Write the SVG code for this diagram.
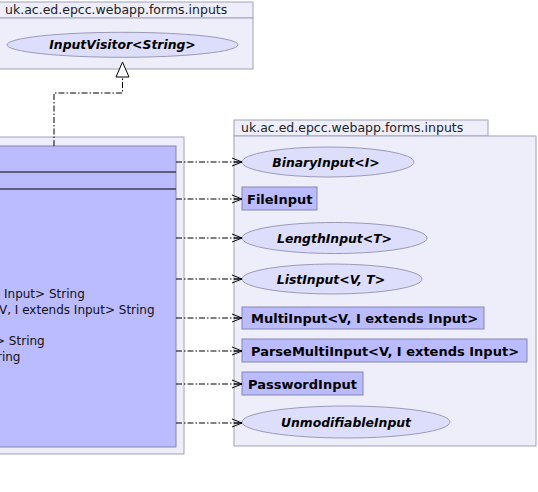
<svg xmlns="http://www.w3.org/2000/svg" width="538" height="492" viewBox="0 0 538 492">
<defs>
<style>
.pkg{fill:#eeeefb;stroke:#a2a2bc;stroke-width:1}
.cls{fill:#bbbbff;stroke:#8585b0;stroke-width:1}
.ifc{fill:#ddddfc;stroke:#9a9ab8;stroke-width:1}
.lbl{font-family:"DejaVu Sans",sans-serif;font-size:12.5px;fill:#222}
.t{font-family:"DejaVu Sans",sans-serif;font-size:12px;fill:#111}
.b{font-family:"DejaVu Sans",sans-serif;font-size:13px;font-weight:bold;fill:#000}
.bi{font-family:"DejaVu Sans",sans-serif;font-size:12.4px;font-weight:bold;font-style:italic;fill:#000;text-anchor:middle}
.dep{fill:none;stroke:#000;stroke-width:1;stroke-dasharray:6,2,1.5,2;marker-end:url(#vee)}
</style>
<marker id="vee" markerWidth="12" markerHeight="10" refX="10" refY="5" orient="auto" markerUnits="userSpaceOnUse">
<path d="M0,1 L10,5 L0,9 M2,5 L10,5" fill="none" stroke="#000" stroke-width="1"/>
</marker>
</defs>

<g id="pkg-top">
<rect class="pkg" x="-2" y="2" width="255" height="16"/>
<rect class="pkg" x="-2" y="18" width="255" height="51"/>
<text class="lbl" x="5" y="14">uk.ac.ed.epcc.webapp.forms.inputs</text>
</g>
<g id="InputVisitor">
<ellipse class="ifc" cx="122.5" cy="44.8" rx="115.5" ry="12.5"/>
<text class="bi" x="122.5" y="48.5">InputVisitor&lt;String&gt;</text>
</g>

<g id="pkg-left">
<rect class="pkg" x="-2" y="137" width="186" height="317"/>
</g>
<g id="main-class">
<rect class="cls" x="-2" y="146" width="178" height="301"/>
<line x1="-2" y1="172" x2="176" y2="172" stroke="#000"/>
<line x1="-2" y1="189" x2="176" y2="189" stroke="#000"/>
<text class="t" x="4" y="298">Input&gt; String</text>
<text class="t" x="-1" y="314">V, I extends Input&gt; String</text>
<text class="t" x="-5" y="345">&gt; String</text>
<text class="t" x="-3" y="361">ring</text>
</g>

<g id="pkg-right">
<rect class="pkg" x="234" y="120" width="254" height="16"/>
<rect class="pkg" x="234" y="136" width="302" height="310"/>
<text class="lbl" x="241" y="132">uk.ac.ed.epcc.webapp.forms.inputs</text>
</g>
<g id="BinaryInput">
<ellipse class="ifc" cx="328" cy="162" rx="86" ry="15"/>
<text class="bi" x="326" y="166.5">BinaryInput&lt;I&gt;</text>
</g>
<g id="FileInput">
<rect class="cls" x="242" y="187" width="75" height="23"/>
<text class="b" x="247" y="203.5">FileInput</text>
</g>
<g id="LengthInput">
<ellipse class="ifc" cx="334.5" cy="238" rx="92.5" ry="15.5"/>
<text class="bi" x="334.5" y="242.5">LengthInput&lt;T&gt;</text>
</g>
<g id="ListInput">
<ellipse class="ifc" cx="332" cy="279" rx="90" ry="15"/>
<text class="bi" x="331" y="283.5">ListInput&lt;V, T&gt;</text>
</g>
<g id="MultiInput">
<rect class="cls" x="242" y="307" width="242" height="22"/>
<text class="b" x="251" y="322.5">MultiInput&lt;V, I extends Input&gt;</text>
</g>
<g id="ParseMultiInput">
<rect class="cls" x="242" y="339" width="285" height="23"/>
<text class="b" x="251" y="355.5">ParseMultiInput&lt;V, I extends Input&gt;</text>
</g>
<g id="PasswordInput">
<rect class="cls" x="242" y="372" width="121" height="23"/>
<text class="b" x="248" y="388.5">PasswordInput</text>
</g>
<g id="UnmodifiableInput">
<ellipse class="ifc" cx="346" cy="422" rx="104" ry="16"/>
<text class="bi" x="346" y="426.5">UnmodifiableInput</text>
</g>

<g id="connectors">
<path d="M54,146 V93 H122.5 V77" fill="none" stroke="#000" stroke-dasharray="6,2,1.5,2"/>
<polygon points="122.5,62 116,77 129,77" fill="#fff" stroke="#000"/>
<path class="dep" d="M176,162 H242"/>
<path class="dep" d="M176,199 H242"/>
<path class="dep" d="M176,238 H242"/>
<path class="dep" d="M176,279 H242"/>
<path class="dep" d="M176,318 H242"/>
<path class="dep" d="M176,351 H242"/>
<path class="dep" d="M176,384 H242"/>
<path class="dep" d="M176,423 H242"/>
</g>
</svg>
